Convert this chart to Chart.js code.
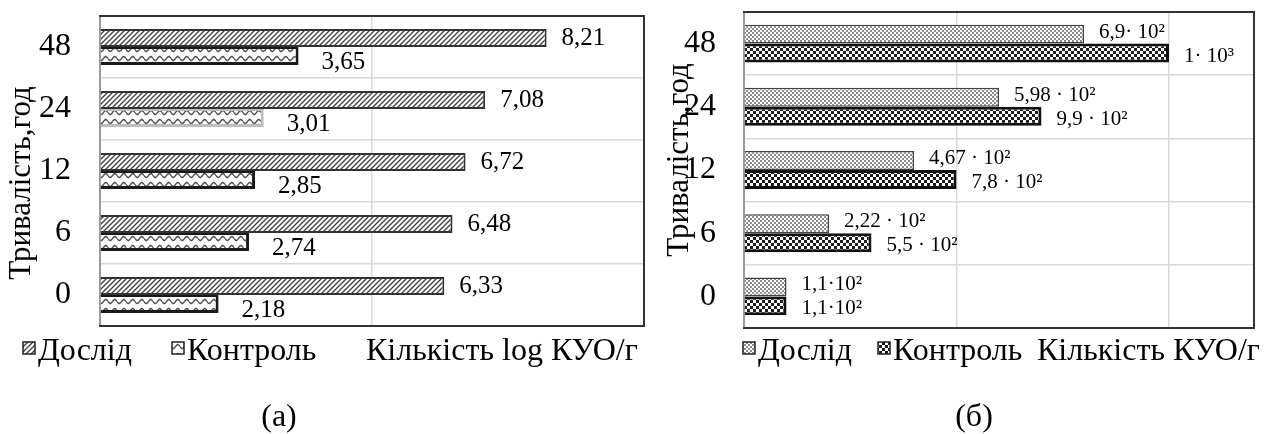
<!DOCTYPE html>
<html lang="uk">
<head>
<meta charset="utf-8">
<title>Кількість КУО/г</title>
<script src="https://cdn.jsdelivr.net/npm/chart.js@4.4.1/dist/chart.umd.min.js"></script>
<style>
  html, body { margin: 0; padding: 0; background: #fff; }
  #wrap { position: relative; width: 1269px; height: 434px; overflow: hidden; }
  canvas { position: absolute; top: 0; }
  #chartA { left: 0; }
  #chartB { left: 660px; }
</style>
</head>
<body>
<div id="wrap">
  <canvas id="chartA" width="660" height="434"></canvas>
  <canvas id="chartB" width="609" height="434"></canvas>
</div>
<script>
// тривалість, год (знизу вгору)
const categories = ['0', '6', '12', '24', '48'];
const seriesNames = ['Дослід', 'Контроль'];

// (а) log КУО/г
const logDoslid = [6.33, 6.48, 6.72, 7.08, 8.21];
const logKontrol = [2.18, 2.74, 2.85, 3.01, 3.65];

// (б) довжина смуг в одиницях осі та підписи над ними
const kuoDoslid = [1, 2, 4, 6, 8];
const kuoKontrol = [1, 3, 5, 7, 10];
const kuoDoslidLabels = ['1,1·10²', '2,22 · 10²', '4,67 · 10²', '5,98 · 10²', '6,9· 10²'];
const kuoKontrolLabels = ['1,1·10²', '5,5 · 10²', '7,8 · 10²', '9,9 · 10²', '1· 10³'];

const FONT = '"Liberation Serif", "Times New Roman", serif';
const H = 434;

function makePattern(w, h, draw) {
  const c = document.createElement('canvas');
  c.width = w;
  c.height = h;
  const g = c.getContext('2d');
  g.fillStyle = '#fff';
  g.fillRect(0, 0, w, h);
  draw(g);
  return g.createPattern(c, 'repeat');
}

const hatch = makePattern(5, 5, g => {
  g.strokeStyle = '#444';
  g.lineWidth = 1.4;
  g.beginPath();
  g.moveTo(-1, 6); g.lineTo(6, -1);
  g.moveTo(-1, 1); g.lineTo(1, -1);
  g.moveTo(4, 6); g.lineTo(6, 4);
  g.stroke();
});

const wave = makePattern(9, 9, g => {
  g.strokeStyle = '#4d4d4d';
  g.lineWidth = 1.4;
  g.beginPath();
  for (let x = 0; x <= 9; x += 0.5) {
    const y = 4.5 + 2 * Math.sin(x / 9 * 2 * Math.PI);
    if (x === 0) g.moveTo(x, y); else g.lineTo(x, y);
  }
  g.stroke();
});

const dots = makePattern(4, 4, g => {
  g.fillStyle = '#8c8c8c';
  g.fillRect(0, 0, 2, 2);
  g.fillRect(2, 2, 2, 2);
});

const checker = makePattern(6, 6, g => {
  g.fillStyle = '#1e1e1e';
  g.fillRect(0, 0, 3, 3);
  g.fillRect(3, 3, 3, 3);
});

// рамка, підписи значень, легенда, назви осей
function decorPlugin(o) {
  return {
    id: 'decor',
    beforeDatasetsDraw(chart) {
      const a = chart.chartArea, ctx = chart.ctx;
      ctx.save();
      ctx.lineWidth = 2;
      ctx.strokeStyle = '#9a9a9a';
      ctx.beginPath();
      ctx.moveTo(a.left, a.top);
      ctx.lineTo(a.left, a.bottom);
      ctx.stroke();
      ctx.strokeStyle = '#333';
      ctx.beginPath();
      ctx.moveTo(a.left - 1, a.top);
      ctx.lineTo(a.right, a.top);
      ctx.lineTo(a.right, a.bottom);
      ctx.lineTo(a.left - 1, a.bottom);
      ctx.stroke();
      ctx.restore();
    },
    afterDatasetsDraw(chart) {
      const ctx = chart.ctx;
      ctx.save();
      ctx.fillStyle = '#000';
      ctx.font = o.labelSize + 'px ' + FONT;
      ctx.textAlign = 'left';
      ctx.textBaseline = 'middle';
      chart.data.datasets.forEach((ds, i) => {
        chart.getDatasetMeta(i).data.forEach((bar, j) => {
          ctx.fillText(o.labels[i][j], bar.x + o.labelDx[i], bar.y + o.labelDy[i]);
        });
      });
      ctx.restore();
    },
    afterDraw(chart) {
      const ctx = chart.ctx;
      ctx.save();
      ctx.fillStyle = '#000';
      ctx.font = '31px ' + FONT;

      // назва осі Y
      ctx.save();
      ctx.translate(o.yTitle[0], o.yTitle[1]);
      ctx.rotate(-Math.PI / 2);
      ctx.textAlign = 'center';
      ctx.textBaseline = 'middle';
      ctx.fillText('Тривалість,год', 0, 0);
      ctx.restore();

      // легенда
      ctx.font = '32px ' + FONT;
      ctx.textAlign = 'left';
      ctx.textBaseline = 'alphabetic';
      chart.data.datasets.forEach((ds, i) => {
        const x = o.legendX[i];
        ctx.fillStyle = ds.backgroundColor;
        ctx.fillRect(x, o.legendY - 18, 12, 12);
        ctx.strokeStyle = '#222';
        ctx.lineWidth = 1.5;
        ctx.strokeRect(x, o.legendY - 18, 12, 12);
        ctx.fillStyle = '#000';
        ctx.fillText(ds.label, x + 15, o.legendY);
      });

      // назва осі X
      ctx.fillText(o.xTitle, o.xTitleX, o.legendY);

      // підпис панелі
      ctx.textAlign = 'center';
      ctx.fillText(o.caption, o.captionX, 426);
      ctx.restore();
    }
  };
}

function buildChart(id, o) {
  const canvas = document.getElementById(id);
  return new Chart(canvas, {
    type: 'bar',
    data: {
      labels: categories,
      datasets: [
        {
          label: seriesNames[0],
          data: o.data[0],
          backgroundColor: o.patterns[0],
          borderColor: o.borderColors[0],
          borderWidth: o.borderWidths[0],
          categoryPercentage: o.catPct,
          barPercentage: 1
        },
        {
          label: seriesNames[1],
          data: o.data[1],
          backgroundColor: o.patterns[1],
          borderColor: o.borderColors[1],
          borderWidth: o.borderWidths[1],
          categoryPercentage: o.catPct,
          barPercentage: 1
        }
      ]
    },
    options: {
      indexAxis: 'y',
      responsive: false,
      animation: false,
      layout: {
        padding: { left: 0, right: canvas.width - o.area.right, top: o.area.top, bottom: H - o.area.bottom }
      },
      plugins: {
        legend: { display: false },
        tooltip: { enabled: false }
      },
      scales: {
        x: {
          min: 0,
          max: o.xMax,
          ticks: { display: false, stepSize: 5 },
          grid: { color: '#d9d9d9', lineWidth: 1.5, drawTicks: false },
          border: { display: false },
          afterFit: s => {
            s.height = 0;
            s.paddingLeft = s.paddingRight = 0;
          }
        },
        y: {
          reverse: true,
          ticks: { color: '#000', font: { family: FONT, size: 32 }, padding: o.tickPad },
          grid: { color: '#d9d9d9', lineWidth: 1.5, drawTicks: false },
          border: { display: false },
          afterFit: s => {
            s.width = o.area.left;
            s.paddingTop = s.paddingBottom = 0;
          }
        }
      }
    },
    plugins: [decorPlugin(o)]
  });
}

const fmt = v => v.toFixed(2).replace('.', ',');

buildChart('chartA', {
  data: [logDoslid, logKontrol],
  patterns: [hatch, wave],
  borderColors: ['#333', ['#1a1a1a', '#1a1a1a', '#1a1a1a', '#bdbdbd', '#1a1a1a']],
  borderWidths: [2, { top: 2, right: 3, bottom: 3, left: 0 }],
  catPct: 0.58,
  area: { left: 100, right: 644, top: 16, bottom: 326 },
  xMax: 10,
  tickPad: 29,
  labels: [logDoslid.map(fmt), logKontrol.map(fmt)],
  labelSize: 25,
  labelDx: [15, 23],
  labelDy: [0, 6],
  yTitle: [22, 183],
  legendX: [23, 172],
  legendY: 360,
  xTitle: 'Кількість log КУО/г',
  xTitleX: 366,
  caption: '(а)',
  captionX: 279
});

buildChart('chartB', {
  data: [kuoDoslid, kuoKontrol],
  patterns: [dots, checker],
  borderColors: ['#444', '#111'],
  borderWidths: [1.5, 3],
  catPct: 0.6,
  area: { left: 84, right: 594, top: 12, bottom: 328 },
  xMax: 12,
  tickPad: 28,
  labels: [kuoDoslidLabels, kuoKontrolLabels],
  labelSize: 21,
  labelDx: [15, 15],
  labelDy: [-2, 3],
  yTitle: [20, 160],
  legendX: [83, 218],
  legendY: 360,
  xTitle: 'Кількість КУО/г',
  xTitleX: 377,
  caption: '(б)',
  captionX: 314
});
</script>
</body>
</html>
